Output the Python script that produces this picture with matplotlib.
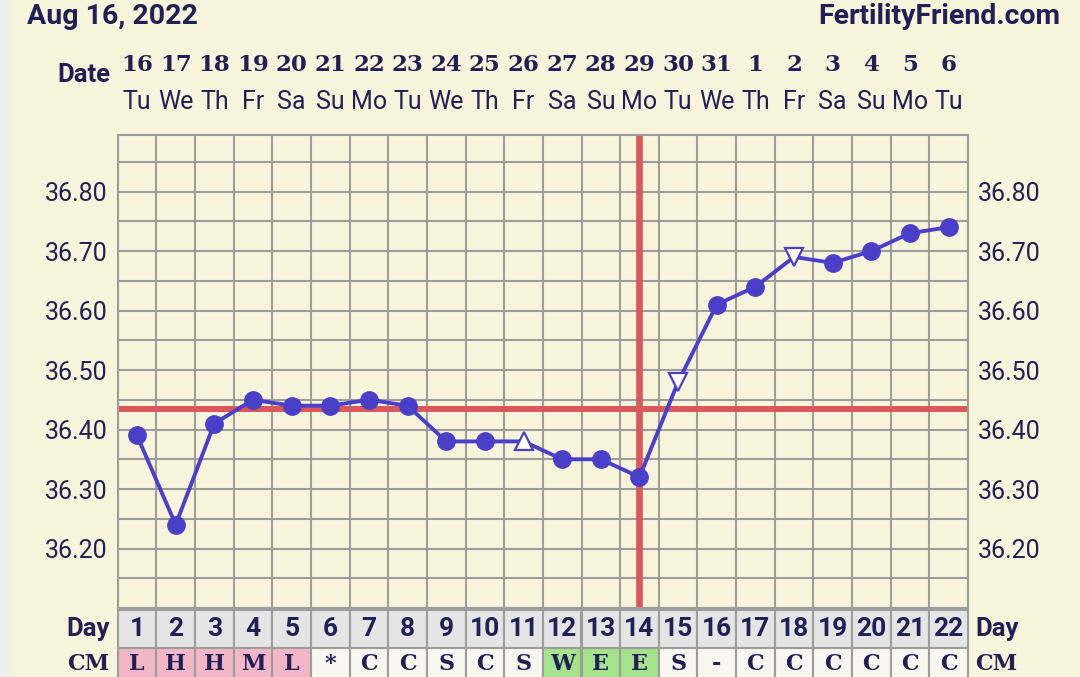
import matplotlib.pyplot as plt
from matplotlib.patches import Rectangle
from matplotlib.transforms import blended_transform_factory

# chart data
days = list(range(1, 23))
dates = ['16', '17', '18', '19', '20', '21', '22', '23', '24', '25', '26',
         '27', '28', '29', '30', '31', '1', '2', '3', '4', '5', '6']
weekdays = ['Tu', 'We', 'Th', 'Fr', 'Sa', 'Su', 'Mo', 'Tu', 'We', 'Th', 'Fr',
            'Sa', 'Su', 'Mo', 'Tu', 'We', 'Th', 'Fr', 'Sa', 'Su', 'Mo', 'Tu']
temps = [36.39, 36.24, 36.41, 36.45, 36.44, 36.44, 36.45, 36.44, 36.38, 36.38, 36.38,
         36.35, 36.35, 36.32, 36.48, 36.61, 36.64, 36.69, 36.68, 36.70, 36.73, 36.74]
# marker type per day: 'o' normal, '^' / 'v' open triangles
markers = ['o'] * 10 + ['^'] + ['o'] * 3 + ['v'] + ['o'] * 2 + ['v'] + ['o'] * 4
cm = ['L', 'H', 'H', 'M', 'L', '*', 'C', 'C', 'S', 'C', 'S',
      'W', 'E', 'E', 'S', '-', 'C', 'C', 'C', 'C', 'C', 'C']
cm_kind = ['pink'] * 5 + ['plain'] * 6 + ['green'] * 3 + ['plain'] * 8
coverline = 36.435
ovulation_day = 14
ytick_vals = [36.20, 36.30, 36.40, 36.50, 36.60, 36.70, 36.80]

BG = '#f8f4dc'
TXT = '#221f55'
BLUE = '#4a3fc8'
RED = '#d9585b'
GRID = '#9c9c9a'
cell_colors = {'pink': '#f3b6c7', 'green': '#a5e28c', 'plain': '#f7f6ef'}

W, H = 1080, 677
fig = plt.figure(figsize=(10.8, 6.77), dpi=100, facecolor=BG)
fig.patches.append(Rectangle((0, 0), 11 / W, 1, transform=fig.transFigure,
                             facecolor='#efefef', edgecolor='none'))

x0, x1 = 117.7, 968.0
ytop, ybot = 135, 608
ax = fig.add_axes([x0 / W, 1 - ybot / H, (x1 - x0) / W, (ybot - ytop) / H])
ax.set_facecolor(BG)
ax.set_xlim(0.5, 22.5)
ax.set_ylim(36.10, 36.895)

# grid
for k in range(23):
    ax.axvline(0.5 + k, color=GRID, lw=1.5, zorder=1)
for k in range(16):
    ax.axhline(36.10 + 0.05 * k, color=GRID, lw=1.5, zorder=1)
for s in ax.spines.values():
    s.set_color(GRID)
    s.set_linewidth(1.5)

ax.set_xticks([])
ax.set_yticks(ytick_vals)
ax.set_yticklabels([f'{v:.2f}' for v in ytick_vals])
ax.tick_params(axis='y', length=0, labelsize=18, labelcolor=TXT,
               left=True, right=True, labelleft=True, labelright=True)
for lab in ax.get_yticklabels():
    lab.set_fontfamily('Roboto')
ax.tick_params(axis='y', which='major', pad=7)

# cover line and ovulation line
ax.axhline(coverline, color=RED, lw=4.3, zorder=2)
ax.axvline(ovulation_day, color=RED, lw=4.8, zorder=2)

# temperatures
ax.plot(days, temps, color=BLUE, lw=2.8, zorder=3)
for d, t, m in zip(days, temps, markers):
    if m == 'o':
        ax.plot(d, t, 'o', color=BLUE, ms=12.5, zorder=4)
    else:
        ax.plot(d, t, m, mfc='white', mec=BLUE, mew=1.6, ms=13, zorder=4)

# header: dates and weekdays
tr = blended_transform_factory(ax.transData, fig.transFigure)
for d, dt, wd in zip(days, dates, weekdays):
    ax.text(d, 1 - 65 / H, dt, transform=tr, ha='center', va='center',
            fontsize=16.5, fontweight='heavy', family='DejaVu Serif', color=TXT)
    ax.text(d, 1 - 102 / H, wd, transform=tr, ha='center', va='center',
            fontsize=18, family='Roboto', color=TXT)
fig.text(110 / W, 1 - 75 / H, 'Date', ha='right', va='center', fontsize=18.5,
         fontweight='bold', family='Roboto', color=TXT)
fig.text(27 / W, 1 - 16 / H, 'Aug 16, 2022', ha='left', va='center', fontsize=20.5,
         fontweight='bold', family='Roboto', color=TXT)
fig.text(1060 / W, 1 - 16 / H, 'FertilityFriend.com', ha='right', va='center',
         fontsize=20.5, fontweight='bold', family='Roboto', color=TXT)

# day / CM table under the chart
tax = fig.add_axes([x0 / W, 0, (x1 - x0) / W, (H - ybot) / H])
tax.set_xlim(0.5, 22.5)
tax.set_ylim(H - ybot, 0)
tax.axis('off')
for d, c, kind in zip(days, cm, cm_kind):
    tax.add_patch(Rectangle((d - 0.5, 2), 1, 38, facecolor='#e4e4e4',
                            edgecolor=GRID, lw=1.5, clip_on=False))
    tax.add_patch(Rectangle((d - 0.5, 40), 1, 38, facecolor=cell_colors[kind],
                            edgecolor=GRID, lw=1.5, clip_on=False))
    tax.text(d, 21, str(d), ha='center', va='center', fontsize=19,
             fontweight='bold', family='Roboto', color=TXT)
    tax.text(d, 56, c, ha='center', va='center', fontsize=16,
             fontweight='heavy', family='DejaVu Serif', color=TXT)
for xx, ha in [(0.29, 'right'), (22.68, 'left')]:
    tax.text(xx, 21, 'Day', ha=ha, va='center', fontsize=18.5,
             fontweight='bold', family='Roboto', color=TXT)
    tax.text(xx, 56, 'CM', ha=ha, va='center', fontsize=16,
             fontweight='heavy', family='DejaVu Serif', color=TXT)

fig.savefig('out.png', dpi=100, facecolor=BG)
